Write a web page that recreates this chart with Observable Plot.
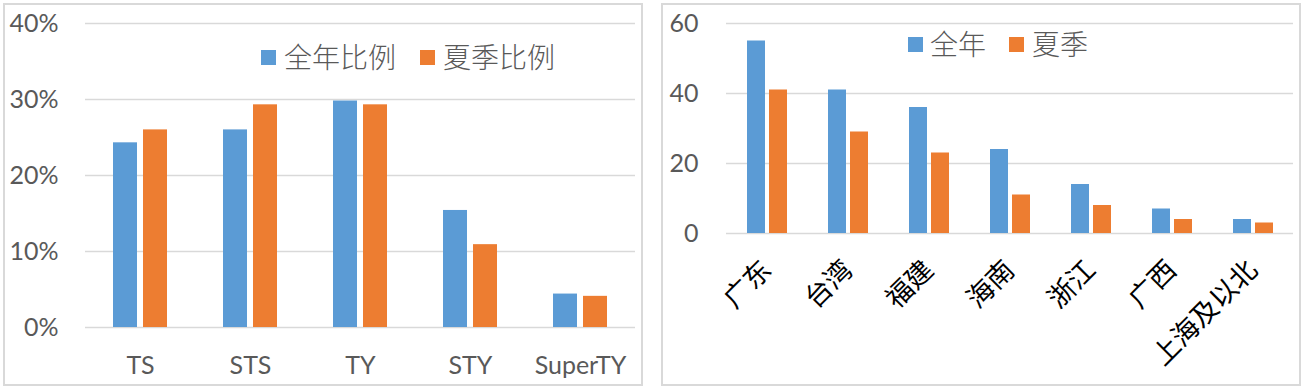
<!DOCTYPE html>
<html>
<head>
<meta charset="utf-8">
<script src="https://cdn.jsdelivr.net/npm/d3@7"></script>
<script src="https://cdn.jsdelivr.net/npm/@observablehq/plot@0.6"></script>
<style>
  html, body { margin: 0; padding: 0; background: #fff; }
  #wrap { position: relative; width: 1304px; height: 389px; overflow: hidden; }
  .panel { position: absolute; box-sizing: border-box; border: 2px solid #d9d9d9; }
  .chart { position: absolute; top: 0; }
  .leg { position: absolute; font-family: "Noto Sans CJK SC", sans-serif; font-weight: 300; color: #595959; white-space: nowrap; line-height: 1; }
  .sw { position: absolute; width: 15px; height: 15px; }
</style>
</head>
<body>
<div id="wrap">
  <div class="panel" style="left:3px;top:3px;width:640px;height:383px;"></div>
  <div class="panel" style="left:661px;top:3px;width:640px;height:383px;"></div>
  <div id="left" class="chart" style="left:0px;"></div>
  <div id="right" class="chart" style="left:650px;"></div>
  <div id="legL"></div>
  <div id="legR"></div>
</div>
<script>
// ---- data ----
const typeCats = ["TS", "STS", "TY", "STY", "SuperTY"];
const typeAnnual = [0.243, 0.260, 0.298, 0.154, 0.044];
const typeSummer = [0.260, 0.293, 0.293, 0.109, 0.041];
const seriesLeft = ["全年比例", "夏季比例"];
const yTicksLeft = [0, 0.1, 0.2, 0.3, 0.4];

const provCats = ["广东", "台湾", "福建", "海南", "浙江", "广西", "上海及以北"];
const provAnnual = [55, 41, 36, 24, 14, 7, 4];
const provSummer = [41, 29, 23, 11, 8, 4, 3];
const seriesRight = ["全年", "夏季"];
const yTicksRight = [0, 20, 40, 60];

const colors = ["#5b9bd5", "#ed7d31"];

// ---- tables ----
const leftData = typeCats.flatMap((c, i) => [
  {cat: c, s: seriesLeft[0], v: typeAnnual[i]},
  {cat: c, s: seriesLeft[1], v: typeSummer[i]}
]);
const rightData = provCats.flatMap((c, i) => [
  {cat: c, s: seriesRight[0], v: provAnnual[i]},
  {cat: c, s: seriesRight[1], v: provSummer[i]}
]);

const gridStyle = {stroke: "#d9d9d9", strokeOpacity: 1, strokeWidth: 1.5};

const left = Plot.plot({
  width: 648, height: 389,
  marginLeft: 84, marginRight: 12, marginTop: 23, marginBottom: 62,
  style: {fontFamily: "Lato, sans-serif", fontSize: "25px", color: "#595959", background: "transparent"},
  fx: {domain: typeCats, padding: 0, label: null},
  x: {domain: seriesLeft, paddingInner: 0.194, paddingOuter: 0.878, axis: null},
  y: {domain: [0, 0.4], label: null},
  color: {domain: seriesLeft, range: colors},
  marks: [
    Plot.gridY(yTicksLeft, gridStyle),
    Plot.axisY(yTicksLeft, {tickSize: 0, tickPadding: 27, label: null, fontSize: 25, fill: "#595959",
      tickFormat: d => Math.round(d * 100) + "%"}),
    Plot.axisFx({anchor: "bottom", tickSize: 0, tickPadding: 29, label: null, fontSize: 25, fill: "#595959"}),
    Plot.barY(leftData, {fx: "cat", x: "s", y: "v", fill: "s"})
  ]
});
document.getElementById("left").appendChild(left);

const right = Plot.plot({
  width: 654, height: 389,
  marginLeft: 73, marginRight: 9, marginTop: 23, marginBottom: 156,
  style: {fontFamily: "Lato, sans-serif", fontSize: "25px", color: "#595959", background: "transparent"},
  fx: {domain: provCats, padding: 0, label: null},
  x: {domain: seriesRight, paddingInner: 0.196, paddingOuter: 0.874, axis: null},
  y: {domain: [0, 60], label: null},
  color: {domain: seriesRight, range: colors},
  marks: [
    Plot.gridY(yTicksRight, gridStyle),
    Plot.axisY(yTicksRight, {tickSize: 0, tickPadding: 28, label: null, fontSize: 25, fill: "#595959"}),
    Plot.axisFx({anchor: "bottom", tickSize: 0, tickPadding: 32, tickRotate: -45, label: null,
      fontSize: 27, fill: "#000", fontFamily: "Noto Sans CJK SC, sans-serif"}),
    Plot.barY(rightData, {fx: "cat", x: "s", y: "v", fill: "s"})
  ]
});
document.getElementById("right").appendChild(right);

// ---- legends (HTML) ----
function legend(el, items, y, fontSize) {
  items.forEach(([label, color, sx, tx]) => {
    const sw = document.createElement("div");
    sw.className = "sw";
    sw.style.left = sx + "px";
    sw.style.top = (y - 7.5) + "px";
    sw.style.background = color;
    el.appendChild(sw);
    const t = document.createElement("div");
    t.className = "leg";
    t.style.left = tx + "px";
    t.style.top = (y - fontSize / 2 - 1) + "px";
    t.style.fontSize = fontSize + "px";
    t.textContent = label;
    el.appendChild(t);
  });
}
legend(document.getElementById("legL"), [
  [seriesLeft[0], colors[0], 261, 284],
  [seriesLeft[1], colors[1], 420, 443]
], 57, 28);
legend(document.getElementById("legR"), [
  [seriesRight[0], colors[0], 908, 930],
  [seriesRight[1], colors[1], 1009, 1032]
], 44, 28);
</script>
</body>
</html>
